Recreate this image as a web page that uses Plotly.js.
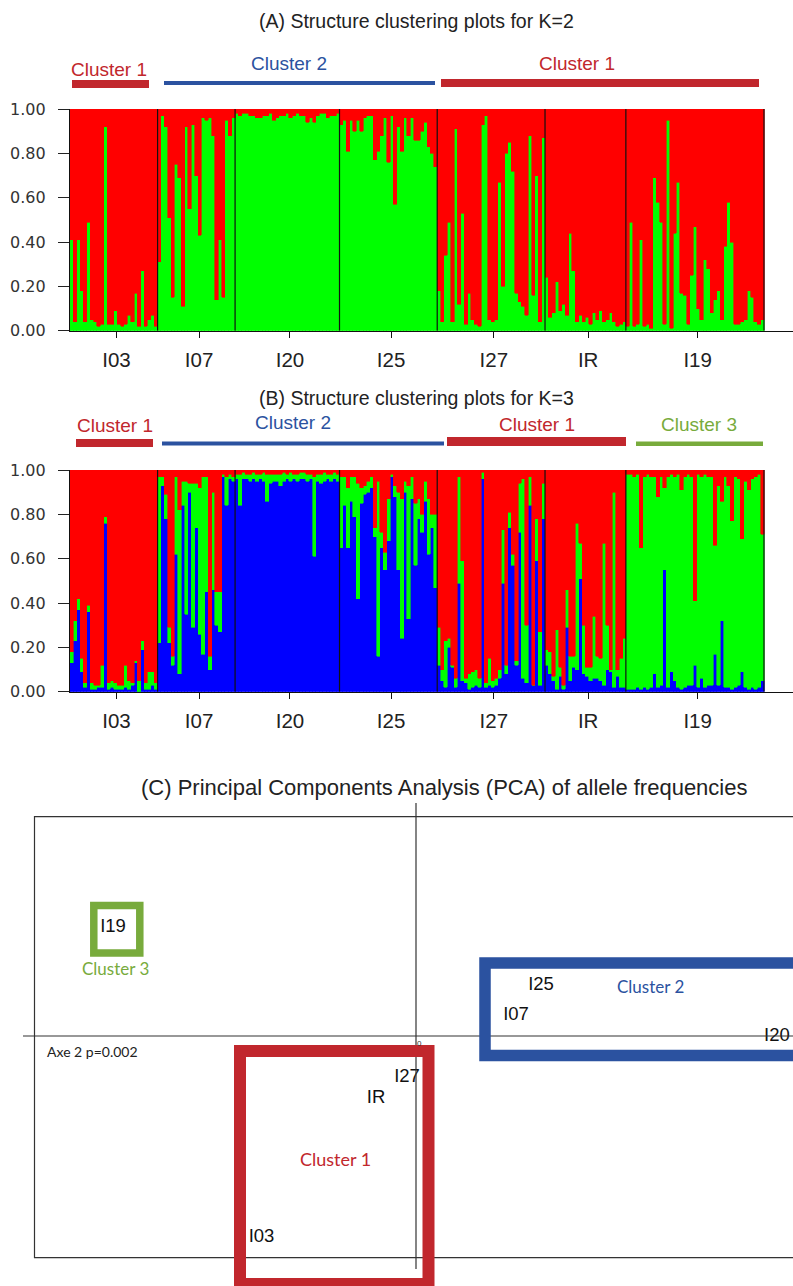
<!DOCTYPE html>
<html>
<head>
<meta charset="utf-8">
<script src="https://cdn.plot.ly/plotly-3.0.1.min.js"></script>
<style>html,body{margin:0;padding:0;background:#fff;}#chart{width:793px;height:1286px;}</style>
</head>
<body>
<div id="chart"></div>
<script>
// ---------------- DATA ----------------
const popNames = ['I03','I07','I20','I25','I27','IR','I19'];
const popSizes = [26, 23, 31, 29, 32, 24, 41];

// K=2 : membership in the green cluster for each individual (red = remainder)
const k2Green = [
  // I03
  0.41,0.04,0.41,0.18,0.04,0.49,0.05,0.04,0.02,0.03,0.92,0.03,0.03,0.09,0.03,0.02,0.03,0.07,0.04,0.17,0.02,0.27,0.02,0.05,0.07,0.02,
  // I07
  0.31,0.97,0.92,0.51,0.15,0.75,0.69,0.11,0.92,0.55,0.93,0.70,0.43,0.96,0.95,0.96,0.88,0.14,0.41,0.15,0.95,0.88,0.96,
  // I20
  0.98,0.97,0.98,0.98,0.97,0.97,0.96,0.96,0.97,0.97,0.98,0.95,0.96,0.97,0.97,0.98,0.96,0.97,0.98,0.97,0.97,0.94,0.96,0.94,0.97,0.98,0.98,0.96,0.97,0.97,0.98,
  // I25
  0.93,0.95,0.81,0.95,0.90,0.95,0.90,0.96,0.97,0.97,0.77,0.81,0.88,0.96,0.76,0.97,0.57,0.92,0.81,0.96,0.88,0.96,0.86,0.86,0.90,0.94,0.83,0.80,0.74,
  // I27
  0.18,0.04,0.34,0.49,0.04,0.91,0.12,0.53,0.03,0.17,0.05,0.03,0.02,0.93,0.97,0.05,0.04,0.05,0.67,0.20,0.80,0.85,0.72,0.17,0.13,0.11,0.07,0.88,0.16,0.70,0.04,0.87,
  // IR
  0.24,0.06,0.08,0.22,0.09,0.12,0.07,0.44,0.27,0.04,0.07,0.04,0.06,0.03,0.08,0.05,0.09,0.04,0.05,0.08,0.04,0.02,0.03,0.04,
  // I19
  0.02,0.49,0.02,0.03,0.41,0.02,0.03,0.01,0.69,0.58,0.49,0.03,0.95,0.01,0.44,0.67,0.17,0.16,0.03,0.25,0.47,0.10,0.05,0.32,0.28,0.08,0.14,0.18,0.05,0.38,0.58,0.40,0.03,0.03,0.04,0.05,0.18,0.15,0.04,0.03,0.05
];

// K=3 : membership in the blue and green clusters (red = remainder)
const k3Blue = [
  // I03
  0.13,0.23,0.37,0.09,0.02,0.36,0.01,0.01,0.02,0.02,0.76,0.01,0.02,0.01,0.01,0.01,0.02,0.01,0.03,0.13,0.00,0.19,0.01,0.01,0.03,0.01,
  // I07
  0.22,0.93,0.78,0.22,0.12,0.62,0.08,0.84,0.35,0.90,0.29,0.74,0.26,0.17,0.45,0.10,0.46,0.30,0.27,0.97,0.84,0.96,0.95,
  // I20
  0.96,0.84,0.96,0.96,0.95,0.96,0.95,0.96,0.95,0.86,0.94,0.95,0.95,0.93,0.95,0.96,0.95,0.96,0.95,0.96,0.96,0.95,0.96,0.61,0.95,0.94,0.95,0.96,0.95,0.96,0.95,
  // I25
  0.65,0.84,0.65,0.86,0.79,0.42,0.85,0.89,0.90,0.92,0.70,0.16,0.65,0.55,0.68,0.97,0.88,0.55,0.24,0.90,0.33,0.87,0.57,0.78,0.72,0.86,0.62,0.74,0.47,
  // I27
  0.12,0.05,0.02,0.20,0.11,0.02,0.49,0.05,0.04,0.01,0.02,0.03,0.02,0.96,0.02,0.03,0.02,0.03,0.06,0.49,0.08,0.74,0.57,0.12,0.72,0.06,0.04,0.84,0.03,0.59,0.03,0.78,
  // IR
  0.12,0.08,0.05,0.01,0.07,0.01,0.29,0.05,0.11,0.10,0.51,0.08,0.07,0.05,0.06,0.06,0.05,0.03,0.10,0.09,0.02,0.07,0.02,0.02,
  // I19
  0.01,0.01,0.01,0.02,0.01,0.02,0.01,0.02,0.08,0.02,0.03,0.55,0.02,0.09,0.05,0.02,0.01,0.02,0.03,0.03,0.12,0.02,0.06,0.02,0.03,0.03,0.17,0.03,0.32,0.02,0.02,0.01,0.02,0.03,0.09,0.02,0.01,0.02,0.01,0.02,0.05
];
const k3Green = [
  // I03
  0.05,0.09,0.05,0.06,0.02,0.03,0.03,0.02,0.01,0.10,0.03,0.03,0.03,0.03,0.02,0.02,0.10,0.04,0.01,0.01,0.05,0.04,0.03,0.08,0.06,0.03,
  // I07
  0.75,0.04,0.11,0.07,0.04,0.35,0.74,0.11,0.60,0.04,0.65,0.20,0.66,0.80,0.52,0.06,0.44,0.15,0.18,0.01,0.13,0.02,0.02,
  // I20
  0.02,0.14,0.03,0.02,0.03,0.03,0.03,0.02,0.04,0.12,0.04,0.03,0.03,0.05,0.04,0.02,0.04,0.02,0.03,0.03,0.03,0.03,0.02,0.36,0.03,0.04,0.04,0.02,0.03,0.03,0.03,
  // I25
  0.32,0.13,0.27,0.11,0.18,0.52,0.07,0.04,0.05,0.05,0.04,0.79,0.07,0.08,0.19,0.01,0.05,0.35,0.63,0.05,0.60,0.10,0.28,0.09,0.08,0.09,0.25,0.06,0.33,
  // I27
  0.17,0.05,0.21,0.04,0.01,0.04,0.48,0.54,0.02,0.07,0.07,0.07,0.04,0.03,0.02,0.12,0.03,0.03,0.04,0.24,0.04,0.07,0.05,0.02,0.22,0.90,0.26,0.13,0.00,0.19,0.24,0.16,
  // IR
  0.07,0.10,0.02,0.27,0.04,0.02,0.17,0.11,0.05,0.66,0.16,0.22,0.04,0.06,0.28,0.10,0.10,0.64,0.20,0.01,0.88,0.03,0.13,0.22,
  // I19
  0.97,0.97,0.96,0.96,0.64,0.95,0.97,0.95,0.89,0.86,0.94,0.37,0.95,0.89,0.92,0.96,0.90,0.95,0.95,0.94,0.29,0.96,0.91,0.96,0.94,0.94,0.49,0.90,0.54,0.95,0.91,0.76,0.95,0.93,0.60,0.93,0.90,0.94,0.96,0.96,0.66
];

const yTicks = [0, 0.2, 0.4, 0.6, 0.8, 1.0];

// PCA (axis 1 / axis 2 scores of the populations)
const pcaLabels = ['I19','I25','I07','I20','I27','IR','I03'];
const pcaX = [-3.03, 1.25, 1.00, 3.48, -0.09, -0.40, -1.545];
const pcaY = [1.09, 0.51, 0.21, 0.00, -0.41, -0.62, -2.01];

// ---------------- BUILD ----------------
const W = 793, H = 1286;
const PX = x => x / W;
const PY = y => 1 - y / H;
const N = k2Green.length;
const idx = k2Green.map((_, i) => i);
const k2Red = k2Green.map(g => Math.max(0, 1 - g));
const k3Red = k3Blue.map((b, i) => Math.max(0, 1 - b - k3Green[i]));

const centers = [], bounds = [];
let s = 0;
popSizes.forEach(n => { centers.push(s + (n - 1) / 2 + 0.8); s += n; bounds.push(s - 0.5); });

const RED = '#ff0000', GRN = '#00ff00', BLU = '#0000ff';
const cRed = '#c1272d', cBlue = '#2b52a0', cGreen = '#78ab3c';
const FONT = 'Liberation Sans, Arial, sans-serif';

function barTrace(y, color, xa, ya) {
  return { type: 'bar', x: idx, y: y, xaxis: xa, yaxis: ya, width: 1,
    marker: { color: color, line: { color: color, width: 0.6 } },
    hoverinfo: 'skip', showlegend: false };
}

const traces = [
  barTrace(k2Green, GRN, 'x', 'y'),
  barTrace(k2Red, RED, 'x', 'y'),
  barTrace(k3Blue, BLU, 'x2', 'y2'),
  barTrace(k3Green, GRN, 'x2', 'y2'),
  barTrace(k3Red, RED, 'x2', 'y2'),
  { type: 'scatter', mode: 'text', x: pcaX, y: pcaY, text: pcaLabels,
    xaxis: 'x3', yaxis: 'y3', cliponaxis: false,
    textposition: pcaLabels.map(l => l === 'I20' ? 'middle right' : 'middle center'),
    textfont: { family: FONT, size: 18.5, color: '#111' },
    hoverinfo: 'skip', showlegend: false }
];

const bw = 694 / N;
const xr = [-0.5, -0.5 + 723 / bw];

function barX() {
  return {
    range: xr, showline: true, linecolor: '#111', linewidth: 1.2,
    ticks: 'outside', ticklen: 6, tickcolor: '#111', tickwidth: 1,
    tickvals: centers, ticktext: popNames, ticklabelstandoff: 4,
    tickfont: { family: FONT, size: 20.5, color: '#222' },
    showgrid: false, zeroline: false, fixedrange: true
  };
}
function barY(top, bot) {
  return {
    domain: [PY(bot), PY(top)], range: [0, 1], showline: true, linecolor: '#111', linewidth: 1.2,
    ticks: 'outside', ticklen: 11, tickcolor: '#222', tickwidth: 1,
    tickvals: yTicks, tickformat: '.2f', ticklabelstandoff: 9,
    tickfont: { family: 'DejaVu Sans, sans-serif', size: 16, color: '#333' },
    showgrid: false, zeroline: false, fixedrange: true
  };
}

const shapes = [];
// population boundaries
bounds.forEach(b => {
  ['', '2'].forEach(k => {
    shapes.push({ type: 'line', xref: 'x' + k, yref: 'y' + k, x0: b, x1: b, y0: 0, y1: 1,
      line: { color: '#111', width: 1.2 } });
  });
});
// cluster bars (paper px)
function rectPx(x0, x1, y0, y1, color) {
  shapes.push({ type: 'rect', xref: 'paper', yref: 'paper', x0: PX(x0), x1: PX(x1), y0: PY(y1), y1: PY(y0),
    fillcolor: color, line: { width: 0 } });
}
rectPx(72, 149, 80, 88, cRed);
rectPx(164, 435, 81, 85, cBlue);
rectPx(441, 759, 79, 87, cRed);
rectPx(76, 153, 439, 447, cRed);
rectPx(162, 444, 441.5, 445.5, cBlue);
rectPx(447, 626, 437, 446, cRed);
rectPx(636, 763, 441.5, 446, cGreen);

// PCA frame, axes and cluster boxes (in PCA units)
shapes.push({ type: 'rect', xref: 'x3', yref: 'y3', x0: -3.815, x1: 4.2, y0: -2.217, y1: 2.193,
  line: { color: '#333', width: 1.2 } });
shapes.push({ type: 'line', xref: 'x3', yref: 'y3', x0: 0, x1: 0, y0: -2.33, y1: 2.33,
  line: { color: '#333', width: 1.2 } });
shapes.push({ type: 'line', xref: 'x3', yref: 'y3', x0: -3.93, x1: 4.2, y0: 0, y1: 0,
  line: { color: '#333', width: 1.2 } });
shapes.push({ type: 'rect', xref: 'x3', yref: 'y3', x0: -3.222, x1: -2.762, y0: 0.83, y1: 1.305,
  line: { color: cGreen, width: 7.5 } });
shapes.push({ type: 'rect', xref: 'x3', yref: 'y3', x0: 0.69, x1: 4.3, y0: -0.195, y1: 0.73,
  line: { color: cBlue, width: 11.5 } });
shapes.push({ type: 'rect', xref: 'x3', yref: 'y3', x0: -1.76, x1: 0.125, y0: -2.48, y1: -0.15,
  line: { color: cRed, width: 12 } });

function ann(text, x, y, size, color, family, xanchor) {
  return { text: text, x: PX(x), y: PY(y), xref: 'paper', yref: 'paper', showarrow: false,
    xanchor: xanchor || 'center', yanchor: 'middle',
    font: { family: family || FONT, size: size, color: color } };
}
const annotations = [
  ann('(A) Structure clustering plots for K=2', 417, 21, 19.5, '#222'),
  ann('(B) Structure clustering plots for K=3', 417, 398, 19.5, '#222'),
  ann('(C) Principal Components Analysis (PCA) of allele frequencies', 444, 787, 22, '#222'),
  ann('Cluster 1', 109, 69, 19, cRed),
  ann('Cluster 2', 289, 64, 19, cBlue),
  ann('Cluster 1', 577, 64, 19, cRed),
  ann('Cluster 1', 115, 425, 19, cRed),
  ann('Cluster 2', 293, 423, 19, cBlue),
  ann('Cluster 1', 537, 424, 19, cRed),
  ann('Cluster 3', 699, 424, 19, cGreen),
  ann('Cluster 3', 116, 968, 17, cGreen, 'Lato, sans-serif'),
  ann('Cluster 2', 650, 986, 17, cBlue, 'Lato, sans-serif'),
  ann('Cluster 1', 335, 1159, 18, cRed, 'Lato, sans-serif'),
  ann('Axe 2 p=0.002', 45, 1051, 14, '#222', 'Lato, sans-serif', 'left'),
  ann('0', 419, 1043, 8, '#333')
];

const layout = {
  width: W, height: H, margin: { l: 0, r: 0, t: 0, b: 0 },
  paper_bgcolor: '#fff', plot_bgcolor: 'rgba(0,0,0,0)',
  barmode: 'stack', bargap: 0, showlegend: false,
  xaxis: Object.assign(barX(), { domain: [PX(70), 1], anchor: 'y' }),
  yaxis: Object.assign(barY(109, 330.7), { anchor: 'x' }),
  xaxis2: Object.assign(barX(), { domain: [PX(70), 1], anchor: 'y2' }),
  yaxis2: Object.assign(barY(470, 691.7), { anchor: 'x2' }),
  xaxis3: { domain: [0, 1], range: [-4.16, 3.77], visible: false, anchor: 'y3', fixedrange: true },
  yaxis3: { domain: [0, PY(800)], range: [-2.5, 2.36], visible: false, anchor: 'x3', fixedrange: true },
  shapes: shapes, annotations: annotations
};

Plotly.newPlot('chart', traces, layout, { displayModeBar: false, staticPlot: true });
</script>
</body>
</html>
